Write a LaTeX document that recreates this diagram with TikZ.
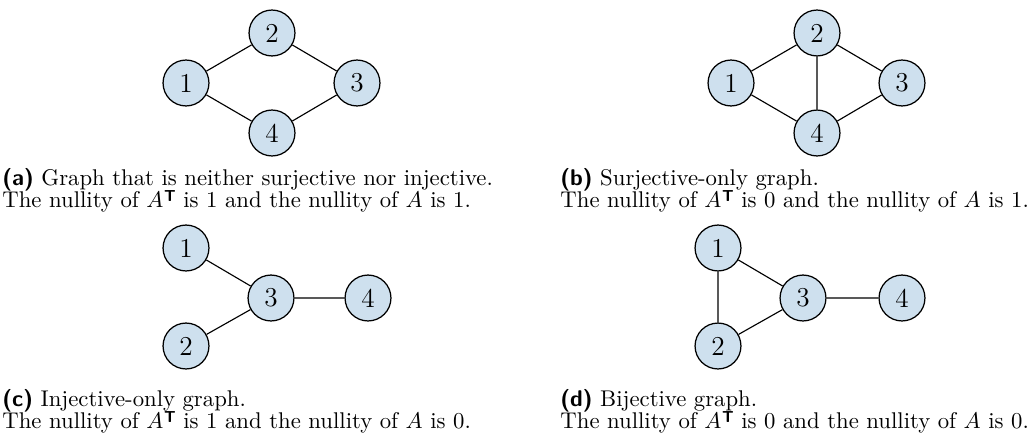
\documentclass[tikz,border=0pt]{standalone}
\usepackage{amsmath}
\definecolor{nodefill}{RGB}{206,224,238}
\newcommand{\Tr}{\kern0.3pt\raisebox{2.3pt}{\scriptsize\sffamily\bfseries T}}
\newcommand{\sublab}[1]{\textsf{\bfseries(#1)}}
\begin{document}
\begin{tikzpicture}[x=0.44pt,y=-0.44pt,
  vtx/.style={circle,draw=black,fill=nodefill,line width=0.55pt,minimum size=20.2pt,inner sep=0pt,font=\large},
  edge/.style={draw=black,line width=0.5pt},
  captxt/.style={anchor=base west,inner sep=0pt,font=\normalsize}]
\useasboundingbox (0,0) rectangle (1034,432);
% (a)
\node[vtx] (a1) at (186,83) {1};
\node[vtx] (a2) at (272,33) {2};
\node[vtx] (a3) at (357,83) {3};
\node[vtx] (a4) at (272,133) {4};
\draw[edge] (a1) -- (a2) (a2) -- (a3) (a3) -- (a4) (a4) -- (a1);
% (b)
\node[vtx] (b1) at (731,83) {1};
\node[vtx] (b2) at (817,33) {2};
\node[vtx] (b3) at (902,83) {3};
\node[vtx] (b4) at (817,133) {4};
\draw[edge] (b1) -- (b2) (b2) -- (b3) (b3) -- (b4) (b4) -- (b1) (b2) -- (b4);
% (c)
\node[vtx] (c1) at (186,248) {1};
\node[vtx] (c2) at (186,346) {2};
\node[vtx] (c3) at (271,298) {3};
\node[vtx] (c4) at (368,298) {4};
\draw[edge] (c1) -- (c3) (c2) -- (c3) (c3) -- (c4);
% (d)
\node[vtx] (d1) at (718,248) {1};
\node[vtx] (d2) at (718,346) {2};
\node[vtx] (d3) at (803,298) {3};
\node[vtx] (d4) at (902,298) {4};
\draw[edge] (d1) -- (d3) (d2) -- (d3) (d3) -- (d4) (d1) -- (d2);
% captions
\node[captxt] (ca1) at (2,185) {\sublab{a} Graph that is neither surjective nor injective.};
\node[captxt] (ca2) at (2,207) {The nullity of $A$\Tr{} is 1 and the nullity of $A$ is 1.};
\node[captxt] (cb1) at (560,185) {\sublab{b} Surjective-only graph.};
\node[captxt] (cb2) at (560,207) {The nullity of $A$\Tr{} is 0 and the nullity of $A$ is 1.};
\node[captxt] (cc1) at (2,406) {\sublab{c} Injective-only graph.};
\node[captxt] (cc2) at (2,428) {The nullity of $A$\Tr{} is 1 and the nullity of $A$ is 0.};
\node[captxt] (cd1) at (560,406) {\sublab{d} Bijective graph.};
\node[captxt] (cd2) at (560,428) {The nullity of $A$\Tr{} is 0 and the nullity of $A$ is 0.};
\end{tikzpicture}
\end{document}
